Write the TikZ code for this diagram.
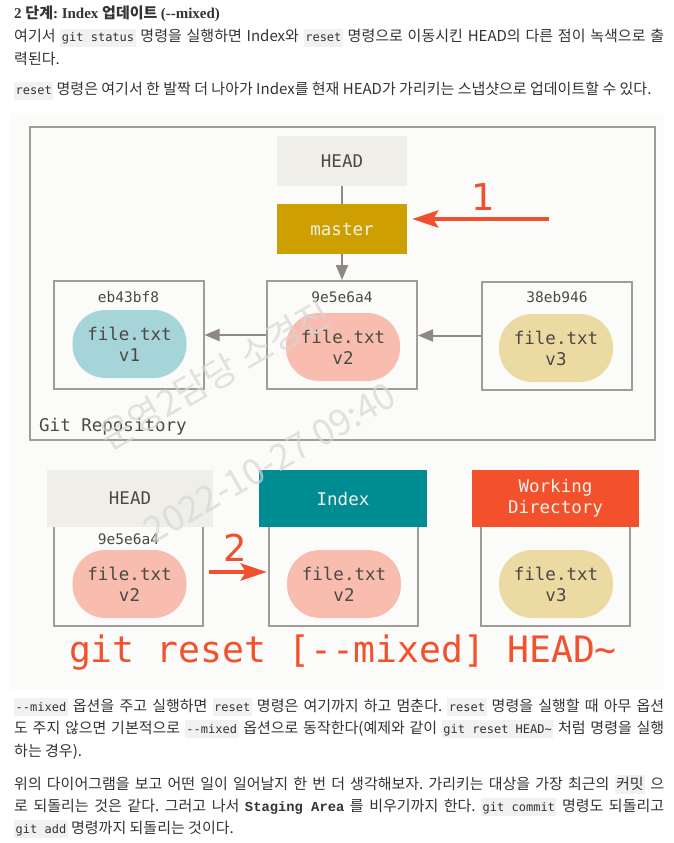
\documentclass[tikz,border=0pt]{standalone}
\usepackage{fontspec}
\setmainfont{Noto Sans CJK KR}
\newfontfamily\monofont[Ligatures=TeXOff]{DejaVu Sans Mono}
\newfontfamily\headfont[Ligatures=TeXOff]{Liberation Serif}
\newfontfamily\stagefont{Liberation Mono}
\newfontfamily\markfont{DejaVu Sans}
\usepackage{xcolor}
\usepackage{tikz}
\usetikzlibrary{arrows.meta,positioning}

\definecolor{inkdark}{HTML}{4B4946}
\definecolor{inkbody}{HTML}{333333}
\definecolor{codebg}{HTML}{F1F1F1}
\definecolor{framegray}{HTML}{A19C97}
\definecolor{arrowgray}{HTML}{8E8984}
\definecolor{headbg}{HTML}{EFEEE8}
\definecolor{mastergold}{HTML}{CE9F00}
\definecolor{indexteal}{HTML}{008C93}
\definecolor{wdred}{HTML}{F3502C}
\definecolor{markred}{HTML}{F1502F}
\definecolor{blobone}{HTML}{A6D5D9}
\definecolor{blobtwo}{HTML}{F8BDAF}
\definecolor{blobthree}{HTML}{EBDAA1}
\definecolor{labelwhite}{HTML}{F2F1EB}
\definecolor{diagrambg}{HTML}{FBFBF9}

\frenchspacing
\newcommand\jline[1]{\makebox[650pt][s]{#1}}
\newcommand\codebox[1]{{\setlength{\fboxsep}{1.5pt}\colorbox{codebg}{\rule[-3.5pt]{0pt}{15pt}#1}}}
\newcommand\code[1]{\codebox{\monofont\fontsize{12}{15}\selectfont #1}}

\begin{document}
\begin{tikzpicture}[x=1pt,y=-1pt,
    txt/.style={anchor=base west, inner sep=0pt, font=\fontsize{15}{18}\selectfont, text=inkbody},
    lbl/.style={font=\monofont\fontsize{17.5}{21}\selectfont, text=inkdark, inner sep=0pt},
    hash/.style={font=\monofont\fontsize{14.5}{17}\selectfont, text=inkdark, inner sep=0pt},
    refbox/.style={draw=framegray, line width=2pt, minimum width=150pt, minimum height=108pt, inner sep=0pt},
    tagbox/.style={lbl, minimum width=130pt, minimum height=50pt},
    treebox/.style={lbl, minimum height=57pt, align=center},
    blob/.style={lbl, rounded corners=33pt, minimum width=114pt, minimum height=68pt, align=center},
    area/.style={minimum width=149pt, minimum height=99pt, inner sep=0pt},
    parent/.style={draw=arrowgray, line width=2pt, -{Triangle[length=15pt,width=12pt]}},
    markarrow/.style={draw=markred, line width=4.5pt, -{Stealth[length=26pt,width=17pt,inset=5pt]}},
    steplabel/.style={font=\markfont\fontsize{37}{40}\selectfont, text=markred, inner sep=0pt},
    stamp/.style={rotate=30, font=\fontsize{36}{40}\selectfont, text=black!16, opacity=0.7}]
    \fill[white] (0,0) rectangle (674,843);
    \useasboundingbox (0,0) rectangle (674,843);

    % Text above the figure
    \node[txt] (title) at (14,19) {{\headfont\bfseries 2 }{\bfseries 단계}{\headfont\bfseries : Index }{\bfseries 업데이트} {\headfont\bfseries (--mixed)}};
    \node[txt] (para1a) at (14,42) {\jline{여기서 \code{git status} 명령을 실행하면 Index와 \code{reset} 명령으로 이동시킨 HEAD의 다른 점이 녹색으로 출}};
    \node[txt] (para1b) at (14,65) {력된다.};
    \node[txt] (para2) at (14,95) {\code{reset} 명령은 여기서 한 발짝 더 나아가 Index를 현재 HEAD가 가리키는 스냅샷으로 업데이트할 수 있다.};

    \fill[diagrambg] (10,113) rectangle (664,690);

    % Git repository with the commits
    \node[draw=framegray, line width=2pt, minimum width=625pt, minimum height=313pt] (repo) at (342.5,283.5) {};
    \node[lbl, anchor=west] (repolbl) at (39,427) {Git Repository};

    \node[tagbox, fill=headbg] (head) at (342,161) {HEAD};
    \node[tagbox, fill=mastergold, text=labelwhite] (master) at (342,229) {master};

    \node[refbox] (c1) at (128.5,335) {};
    \node[refbox] (c2) at (342,335) {};
    \node[refbox] (c3) at (557,335.5) {};
    \node[hash] (h1) at (128.5,297) {eb43bf8};
    \node[hash] (h2) at (342,297) {9e5e6a4};
    \node[hash] (h3) at (557,297) {38eb946};
    \node[blob, fill=blobone] (b1) at (129.5,344) {file.txt\\v1};
    \node[blob, fill=blobtwo] (b2) at (343,347) {file.txt\\v2};
    \node[blob, fill=blobthree] (b3) at (556,348) {file.txt\\v3};

    \draw[draw=arrowgray, line width=2pt] (head) -- (master);
    \draw[parent] (master) -- (c2);
    \draw[parent] (c2) -- (c1);
    \draw[parent] (c3.west) -- (c2.east |- c3.west);

    % Step 1: move master
    \coordinate (onetail) at (549,219);
    \draw[markarrow, shorten >=5pt] (onetail) -- (onetail -| master.east);
    \node[steplabel] (one) at (483,197) {1};

    % The three trees
    \node[area] (headarea) at (128.5,576.5) {};
    \node[area] (indexarea) at (343.5,576.5) {};
    \node[area] (wdarea) at (555.5,576.5) {};
    \foreach \a in {headarea,indexarea,wdarea}
        \draw[framegray, line width=2pt] (\a.north west) |- (\a.south east) -- (\a.north east);

    \node[treebox, fill=headbg, minimum width=166pt] (headtree) at (130,498.5) {HEAD};
    \node[treebox, fill=indexteal, text=labelwhite, minimum width=168pt] (indextree) at (343,498.5) {Index};
    \node[treebox, fill=wdred, text=labelwhite, minimum width=167pt] (wdtree) at (555.5,498.5) {Working\\Directory};

    \node[hash] (h4) at (128.5,539) {9e5e6a4};
    \node[blob, fill=blobtwo] (b4) at (129.5,584) {file.txt\\v2};
    \node[blob, fill=blobtwo] (b5) at (344,584) {file.txt\\v2};
    \node[blob, fill=blobthree] (b6) at (556,584) {file.txt\\v3};

    % Step 2: copy into the index
    \coordinate (twotail) at (209,572);
    \draw[markarrow, shorten >=2pt] (twotail) -- (twotail -| indexarea.west);
    \node[steplabel] (two) at (235,548) {2};

    \node[font=\monofont\fontsize{36.4}{40}\selectfont, text=wdred, inner sep=0pt] (cmd) at (343,653) {git reset [--mixed] HEAD\textasciitilde};

    % Text below the figure
    \node[txt] (para3a) at (14,711) {\jline{\code{--mixed} 옵션을 주고 실행하면 \code{reset} 명령은 여기까지 하고 멈춘다. \code{reset} 명령을 실행할 때 아무 옵션}};
    \node[txt] (para3b) at (14,733) {\jline{도 주지 않으면 기본적으로 \code{--mixed} 옵션으로 동작한다(예제와 같이 \code{git reset HEAD\textasciitilde} 처럼 명령을 실행}};
    \node[txt] (para3c) at (14,756) {하는 경우).};
    \node[txt] (para4a) at (14,789) {\jline{위의 다이어그램을 보고 어떤 일이 일어날지 한 번 더 생각해보자. 가리키는 대상을 가장 최근의 \codebox{커밋} 으}};
    \node[txt] (para4b) at (14,811) {\jline{로 되돌리는 것은 같다. 그러고 나서 \mbox{\stagefont\bfseries\fontsize{13.8}{17}\selectfont Staging Area} 를 비우기까지 한다. \code{git commit} 명령도 되돌리고}};
    \node[txt] (para4c) at (14,833) {\code{git add} 명령까지 되돌리는 것이다.};

    % watermark
    \node[stamp] (stampname) at (215,375) {운영2담당 소경진};
    \node[stamp] (stampdate) at (270,463) {2022-10-27 09:40};
\end{tikzpicture}
\end{document}
